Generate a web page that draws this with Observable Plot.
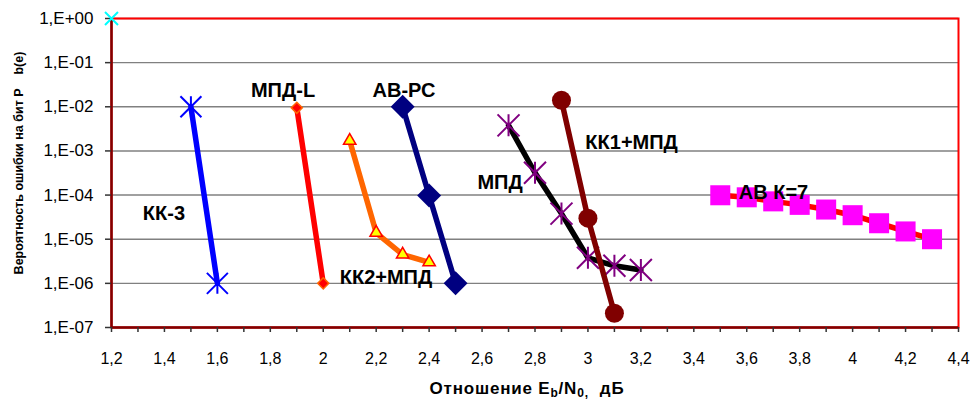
<!DOCTYPE html>
<html><head><meta charset="utf-8">
<script src="https://cdn.jsdelivr.net/npm/d3@7"></script>
<script src="https://cdn.jsdelivr.net/npm/@observablehq/plot@0.6"></script>
<style>body{margin:0;background:#fff}</style>
</head><body><div id="chart"></div>
<script>
// ---- data ----
const kk3X = [1.5, 1.6];
const kk3Y = [1.0e-2, 1.0e-6];
const mpdLX = [1.9, 2.0];
const mpdLY = [9.5e-3, 1.0e-6];
const kk2X = [2.1, 2.2, 2.3, 2.4];
const kk2Y = [1.7e-3, 1.4e-5, 4.5e-6, 3.0e-6];
const abrsX = [2.3, 2.4, 2.5];
const abrsY = [1.0e-2, 9.8e-5, 1.0e-6];
const mpdX = [2.7, 2.8, 2.9, 3.0, 3.1, 3.2];
const mpdY = [3.8e-3, 3.2e-4, 3.8e-5, 3.8e-6, 2.5e-6, 2.0e-6];
const kk1X = [2.9, 3.0, 3.1];
const kk1Y = [1.4e-2, 3.0e-5, 2.1e-7];
const abK7X = [3.5, 3.6, 3.7, 3.8, 3.9, 4.0, 4.1, 4.2, 4.3];
const abK7Y = [9.9e-5, 8.9e-5, 7.2e-5, 6.0e-5, 4.7e-5, 3.5e-5, 2.3e-5, 1.5e-5, 1.0e-5];
const refX = [1.2];
const refY = [1.0];

const labelText = ["КК-3", "МПД-L", "АВ-РС", "КК2+МПД", "МПД", "КК1+МПД", "АВ К=7"];
const labelX = [1.398, 1.848, 2.305, 2.237, 2.668, 3.165, 3.701];
const labelY = [3.8e-5, 2.34e-2, 2.34e-2, 1.36e-6, 1.88e-4, 1.51e-3, 1.11e-4];

const yTicks = [1, 1e-1, 1e-2, 1e-3, 1e-4, 1e-5, 1e-6, 1e-7];
const yTickLabels = ["1,E+00", "1,E-01", "1,E-02", "1,E-03", "1,E-04", "1,E-05", "1,E-06", "1,E-07"];
const xTicks = [1.2, 1.4, 1.6, 1.8, 2.0, 2.2, 2.4, 2.6, 2.8, 3.0, 3.2, 3.4, 3.6, 3.8, 4.0, 4.2, 4.4];
const xTickLabels = ["1,2", "1,4", "1,6", "1,8", "2", "2,2", "2,4", "2,6", "2,8", "3", "3,2", "3,4", "3,6", "3,8", "4", "4,2", "4,4"];
const xMinorTicks = [1.2, 1.3, 1.4, 1.5, 1.6, 1.7, 1.8, 1.9, 2.0, 2.1, 2.2, 2.3, 2.4, 2.5, 2.6, 2.7, 2.8, 2.9, 3.0, 3.1, 3.2, 3.3, 3.4, 3.5, 3.6, 3.7, 3.8, 3.9, 4.0, 4.1, 4.2, 4.3, 4.4];
const yTitle = "Вероятность ошибки на бит P\u00a0\u00a0\u00a0\u00a0b(e)";

// ---- build tables ----
const toRows = (xs, ys) => xs.map((x, i) => ({x, y: ys[i]}));
const kk3 = toRows(kk3X, kk3Y);
const mpdL = toRows(mpdLX, mpdLY);
const kk2 = toRows(kk2X, kk2Y);
const abrs = toRows(abrsX, abrsY);
const mpd = toRows(mpdX, mpdY);
const kk1 = toRows(kk1X, kk1Y);
const abK7 = toRows(abK7X, abK7Y);
const ref = toRows(refX, refY);
const labels = labelText.map((t, i) => ({text: t, x: labelX[i], y: labelY[i]}));

// Excel-like star marker (X plus vertical bar)
const excelStar = {draw(ctx, size) {
  const h = Math.sqrt(size / Math.PI);
  ctx.moveTo(-h, -h); ctx.lineTo(h, h);
  ctx.moveTo(h, -h); ctx.lineTo(-h, h);
  ctx.moveTo(0, -h); ctx.lineTo(0, h);
}};
const excelX = {draw(ctx, size) {
  const h = Math.sqrt(size / Math.PI);
  ctx.moveTo(-h, -h); ctx.lineTo(h, h);
  ctx.moveTo(h, -h); ctx.lineTo(-h, h);
}};

const LW = 5.5;
const plot = Plot.plot({
  width: 974, height: 406,
  marginLeft: 111, marginRight: 16, marginTop: 18, marginBottom: 79,
  style: {fontFamily: "'Liberation Sans', Arial, sans-serif", fontSize: "16px", background: "#fff", color: "#000", overflow: "visible"},
  x: {domain: [1.2, 4.4]},
  y: {type: "log", domain: [1e-7, 1]},
  marks: [
    Plot.ruleY(yTicks, {stroke: "#808080", strokeWidth: 1.4}),
    Plot.frame({stroke: "#ff0000", strokeWidth: 2}),
    Plot.ruleX([1.2], {stroke: "#800000", strokeWidth: 2.5}),
    Plot.ruleY([1e-7], {stroke: "#800000", strokeWidth: 2.5}),
    Plot.axisY(yTicks, {tickFormat: d => yTickLabels[yTicks.indexOf(d)], tickSize: 6, tickPadding: 12, stroke: "#333", strokeWidth: 1.5, label: null, fontSize: 17}),
    Plot.axisX(xMinorTicks, {tickFormat: () => "", tickSize: 5, stroke: "#333", strokeWidth: 1.5, label: null}),
    Plot.axisX(xTicks, {tickFormat: d => xTickLabels[xTicks.indexOf(d)], tickSize: 0, tickPadding: 25, label: null, fontSize: 16}),

    // reference marker
    Plot.dot(ref, {x: "x", y: "y", symbol: excelX, r: 6.5, stroke: "#00ffff", strokeWidth: 2}),
    // КК-3
    Plot.line(kk3, {x: "x", y: "y", stroke: "#0000ff", strokeWidth: LW}),
    Plot.dot(kk3, {x: "x", y: "y", symbol: excelStar, r: 10.5, stroke: "#0000ff", strokeWidth: 2}),
    // МПД-L
    Plot.line(mpdL, {x: "x", y: "y", stroke: "#ff0000", strokeWidth: LW}),
    Plot.dot(mpdL, {x: "x", y: "y", symbol: "diamond2", r: 5, fill: "#ff0000", stroke: "#ff6600", strokeWidth: 1.5}),
    // КК2+МПД
    Plot.line(kk2, {x: "x", y: "y", stroke: "#ff6600", strokeWidth: LW}),
    Plot.dot(kk2, {x: "x", y: "y", symbol: "triangle", r: 4.6, fill: "#ffff00", stroke: "#ff0000", strokeWidth: 1.5}),
    // АВ-РС
    Plot.line(abrs, {x: "x", y: "y", stroke: "#000080", strokeWidth: LW}),
    Plot.dot(abrs, {x: "x", y: "y", symbol: "diamond2", r: 10.8, fill: "#000080"}),
    // МПД
    Plot.line(mpd, {x: "x", y: "y", stroke: "#000000", strokeWidth: LW}),
    Plot.dot(mpd, {x: "x", y: "y", symbol: excelStar, r: 11, stroke: "#800080", strokeWidth: 2}),
    // КК1+МПД
    Plot.line(kk1, {x: "x", y: "y", stroke: "#800000", strokeWidth: LW}),
    Plot.dot(kk1, {x: "x", y: "y", r: 9.5, fill: "#800000"}),
    // АВ К=7
    Plot.line(abK7, {x: "x", y: "y", stroke: "#ff0000", strokeWidth: LW}),
    Plot.dot(abK7, {x: "x", y: "y", symbol: "square", r: 11.3, fill: "#ff00ff"}),

    // series labels
    Plot.text(labels, {x: "x", y: "y", text: "text", fontWeight: "bold", fontSize: 20, fill: "#000"}),
    // y-axis title
    Plot.text([yTitle], {text: d => d, frameAnchor: "left", textAnchor: "middle", lineAnchor: "middle", dx: -93, dy: -10, rotate: -90, fontWeight: "bold", fontSize: 12.5, fill: "#000"})
  ]
});

// x-axis title with subscripts
const svg = d3.select(plot);
const t = svg.append("text")
  .attr("x", 527).attr("y", 394)
  .attr("text-anchor", "middle")
  .attr("font-weight", "bold")
  .attr("font-size", 17)
  .attr("letter-spacing", "0.8px")
  .attr("fill", "#000");
t.append("tspan").text("Отношение E");
t.append("tspan").attr("font-size", 12).attr("dy", 3).text("b");
t.append("tspan").attr("dy", -3).text("/N");
t.append("tspan").attr("font-size", 12).attr("dy", 3).text("0,");
t.append("tspan").attr("dy", -3).text("\u00a0\u00a0дБ");

document.getElementById("chart").appendChild(plot);
</script>
</body></html>
